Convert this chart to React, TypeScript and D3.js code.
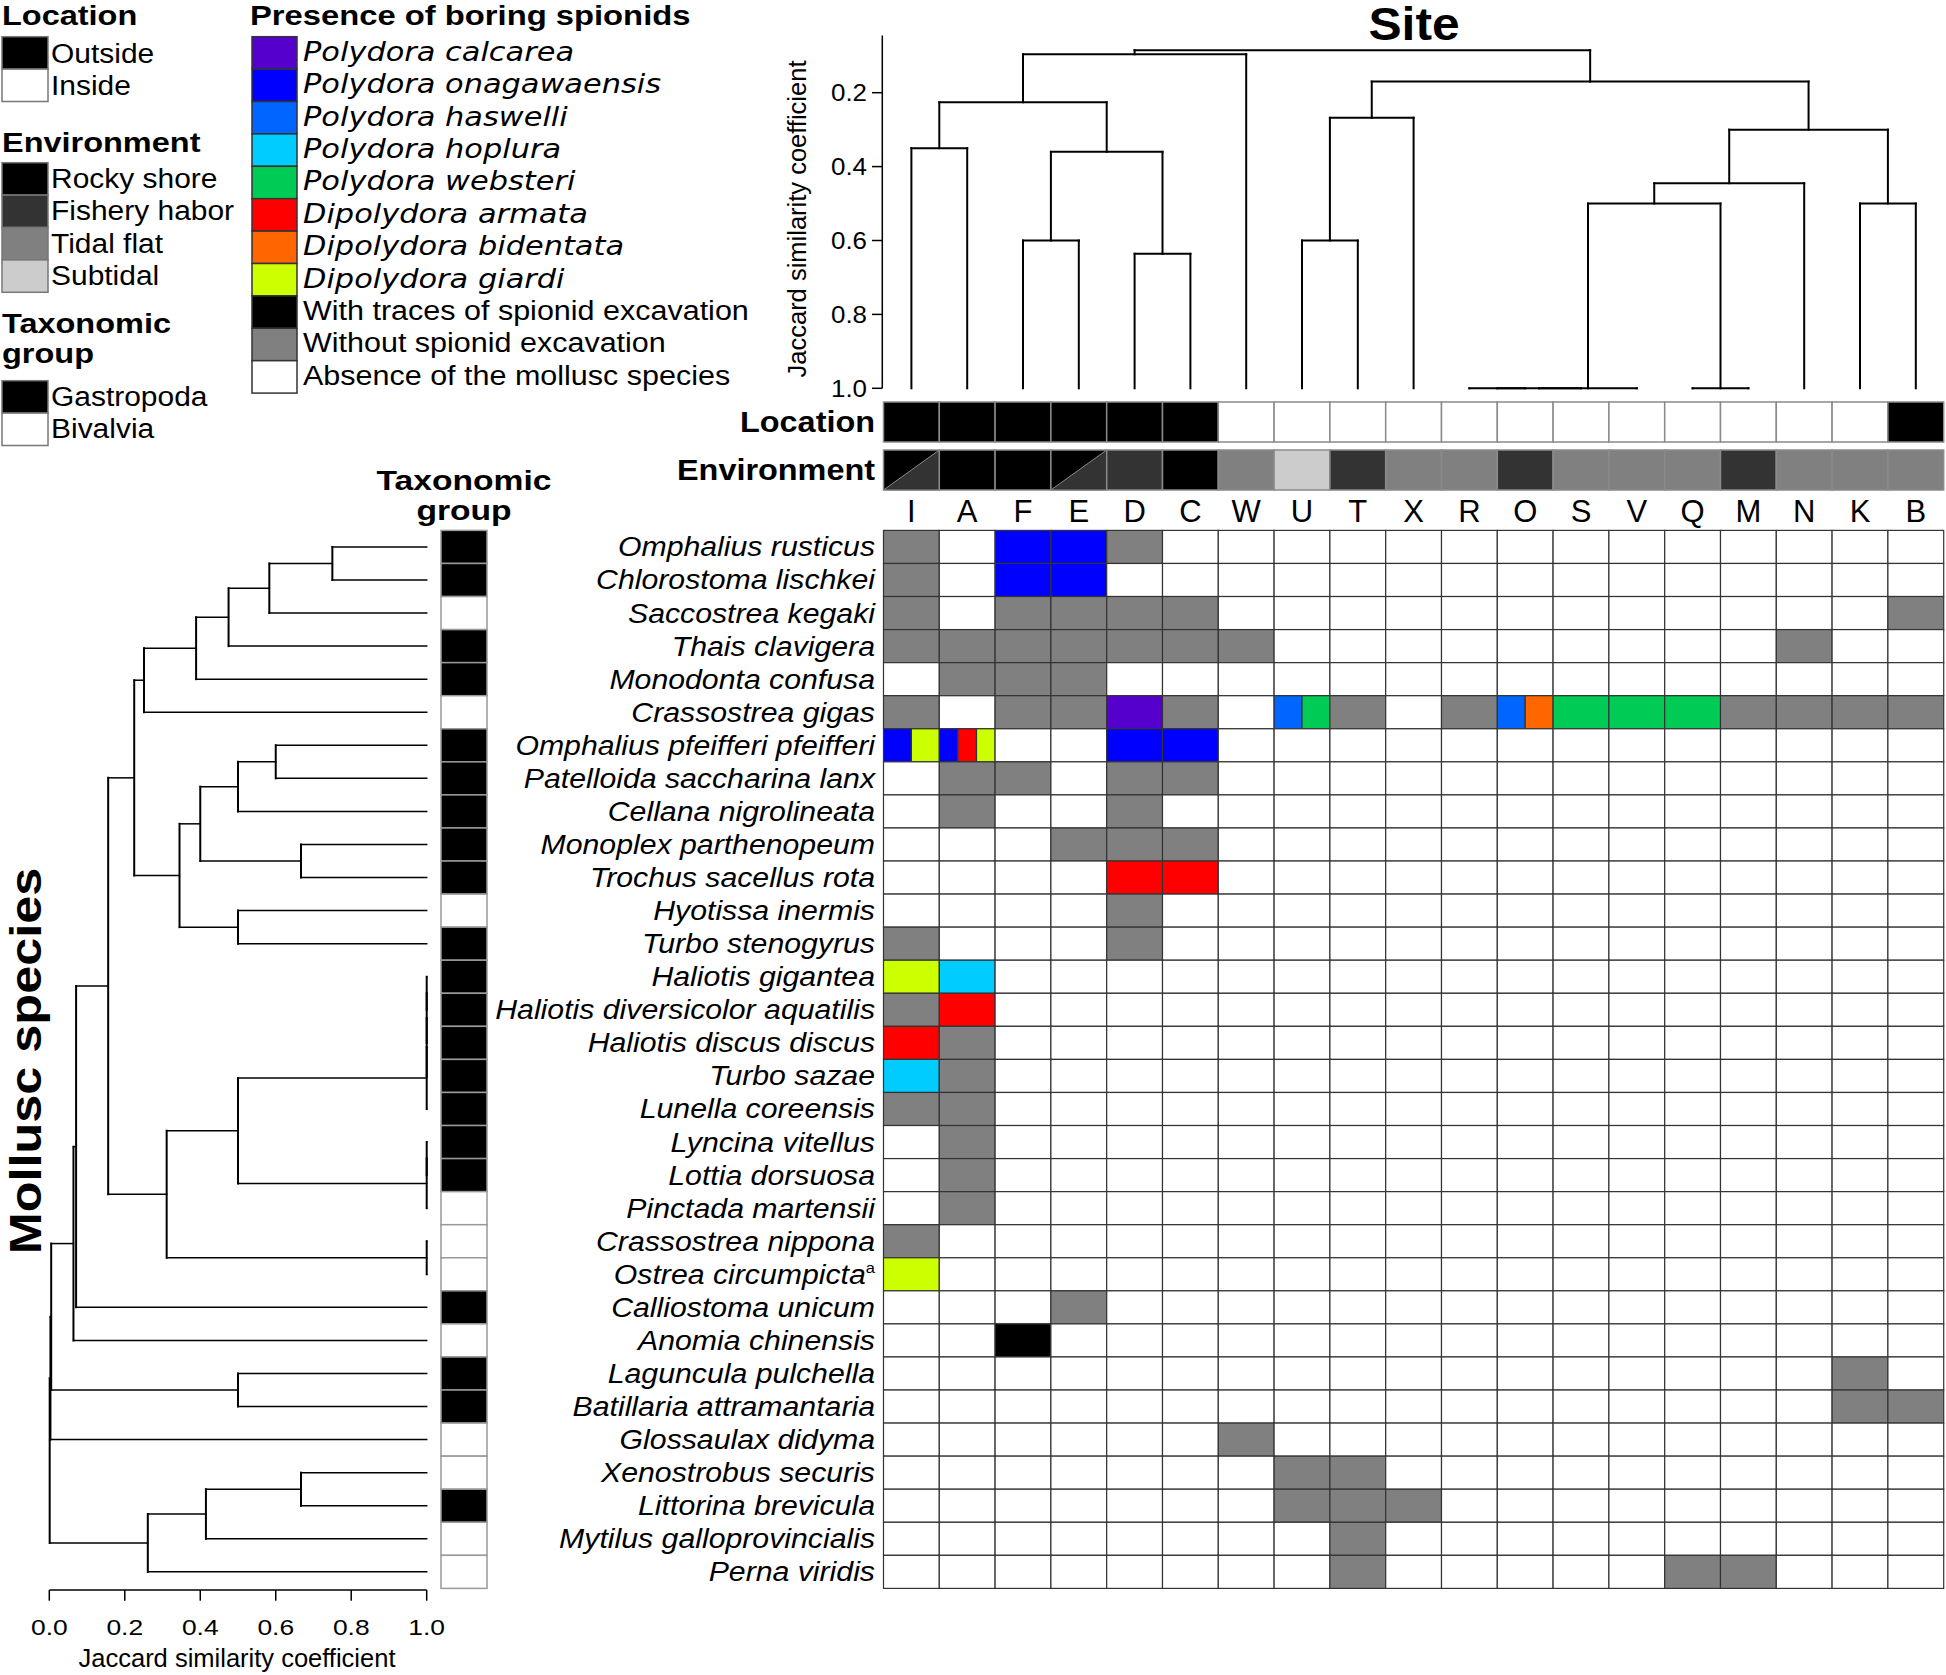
import React from "react";
import * as d3 from "d3";

const SANS = "'Liberation Sans', Arial, Helvetica, sans-serif";
const VERA = "'DejaVu Sans', Verdana, sans-serif";

// ---------------- DATA ----------------
const siteOrder = ["I","A","F","E","D","C","W","U","T","X","R","O","S","V","Q","M","N","K","B"];
const siteLocation = ["Outside","Outside","Outside","Outside","Outside","Outside","Inside","Inside","Inside","Inside","Inside","Inside","Inside","Inside","Inside","Inside","Inside","Inside","Outside"];
const siteEnvironment = [
  "Rocky shore/Fishery habor","Rocky shore","Rocky shore","Rocky shore/Fishery habor","Fishery habor","Rocky shore",
  "Tidal flat","Subtidal","Fishery habor","Tidal flat","Tidal flat","Fishery habor","Tidal flat","Tidal flat","Tidal flat",
  "Fishery habor","Tidal flat","Tidal flat","Tidal flat"];

// site dendrogram: [left, right, Jaccard similarity at merge]; "c#" = earlier cluster
const siteMerges: [string, string, number][] = [
  ["I","A",0.35],["F","E",0.6],["D","C",0.636],["c2","c3",0.36],["c1","c4",0.226],["c5","W",0.096],
  ["U","T",0.6],["c7","X",0.268],["R","O",1.0],["c9","S",1.0],["c10","V",1.0],["Q","M",1.0],
  ["c11","c12",0.5],["c13","N",0.445],["K","B",0.5],["c14","c15",0.3],["c8","c16",0.17],["c6","c17",0.085],
];
const siteAxisTicks = [0.2,0.4,0.6,0.8,1.0];

const species = [
  "Omphalius rusticus","Chlorostoma lischkei","Saccostrea kegaki","Thais clavigera","Monodonta confusa",
  "Crassostrea gigas","Omphalius pfeifferi pfeifferi","Patelloida saccharina lanx","Cellana nigrolineata",
  "Monoplex parthenopeum","Trochus sacellus rota","Hyotissa inermis","Turbo stenogyrus","Haliotis gigantea",
  "Haliotis diversicolor aquatilis","Haliotis discus discus","Turbo sazae","Lunella coreensis","Lyncina vitellus",
  "Lottia dorsuosa","Pinctada martensii","Crassostrea nippona","Ostrea circumpicta","Calliostoma unicum",
  "Anomia chinensis","Laguncula pulchella","Batillaria attramantaria","Glossaulax didyma","Xenostrobus securis",
  "Littorina brevicula","Mytilus galloprovincialis","Perna viridis"];
const speciesNote: Record<number, string> = { 22: "a" };
const speciesTaxon = ["Gastropoda","Gastropoda","Bivalvia","Gastropoda","Gastropoda","Bivalvia","Gastropoda","Gastropoda",
  "Gastropoda","Gastropoda","Gastropoda","Bivalvia","Gastropoda","Gastropoda","Gastropoda","Gastropoda","Gastropoda",
  "Gastropoda","Gastropoda","Gastropoda","Bivalvia","Bivalvia","Bivalvia","Gastropoda","Bivalvia","Gastropoda",
  "Gastropoda","Bivalvia","Bivalvia","Gastropoda","Bivalvia","Bivalvia"];

// presence per species row: "site:code", split cells joined with "/"
const presence = [
  "I:G F:Po E:Po D:G",
  "I:G F:Po E:Po",
  "I:G F:G E:G D:G C:G B:G",
  "I:G A:G F:G E:G D:G C:G W:G N:G",
  "A:G F:G E:G",
  "I:G F:G E:G D:Pc C:G U:Ph/Pw T:G R:G O:Ph/Db S:Pw V:Pw Q:Pw M:G N:G K:G B:G",
  "I:Po/Dg A:Po/Da/Dg D:Po C:Po",
  "A:G F:G D:G C:G",
  "A:G D:G",
  "E:G D:G C:G",
  "D:Da C:Da",
  "D:G",
  "I:G D:G",
  "I:Dg A:Pl",
  "I:G A:Da",
  "I:Da A:G",
  "I:Pl A:G",
  "I:G A:G",
  "A:G",
  "A:G",
  "A:G",
  "I:G",
  "I:Dg",
  "E:G",
  "F:K",
  "K:G",
  "K:G B:G",
  "W:G",
  "U:G T:G",
  "U:G T:G X:G",
  "T:G",
  "T:G Q:G M:G",
];

// species dendrogram: leaves = row index, "c#" = earlier cluster
const speciesMerges: [number | string, number | string, number][] = [
  [0,1,0.75],["c1",2,0.583],["c2",3,0.475],["c3",4,0.389],["c4",5,0.251],
  [6,7,0.6],["c6",8,0.5],[9,10,0.667],["c7","c8",0.4],[11,12,0.5],["c9","c10",0.345],["c5","c11",0.225],
  [13,14,1],["c13",15,1],["c14",16,1],["c15",17,1],[18,19,1],["c17",20,1],["c16","c18",0.5],
  [21,22,1],["c19","c20",0.311],["c12","c21",0.156],["c22",23,0.071],["c23",24,0.064],
  [25,26,0.5],["c24","c25",0.005],["c26",27,0.003],[28,29,0.667],["c28",30,0.415],["c29",31,0.261],["c27","c30",0.001],
];
const speciesAxisTicks = [0,0.2,0.4,0.6,0.8,1.0];

const locationLevels = ["Outside","Inside"];
const environmentLevels = ["Rocky shore","Fishery habor","Tidal flat","Subtidal"];
const taxonLevels = ["Gastropoda","Bivalvia"];
const presenceCodes = ["Pc","Po","Ph","Pl","Pw","Da","Db","Dg","K","G","."];
const presenceLabels = ["Polydora calcarea","Polydora onagawaensis","Polydora haswelli","Polydora hoplura","Polydora websteri",
  "Dipolydora armata","Dipolydora bidentata","Dipolydora giardi","With traces of spionid excavation",
  "Without spionid excavation","Absence of the mollusc species"];
const presenceItalic = [true,true,true,true,true,true,true,true,false,false,false];

// ---------------- STYLE ----------------
const codeColor: Record<string, string> = {
  ".": "#ffffff", G: "#808080", K: "#000000", Pc: "#5500cc", Po: "#0000ff", Ph: "#0066ff",
  Pl: "#00ccff", Pw: "#00cc55", Da: "#ff0000", Db: "#ff6600", Dg: "#ccff00",
};
const locColor: Record<string, string> = { Outside: "#000000", Inside: "#ffffff" };
const envColor: Record<string, string> = { "Rocky shore": "#000000", "Fishery habor": "#333333", "Tidal flat": "#808080", Subtidal: "#cccccc" };
const taxColor: Record<string, string> = { Gastropoda: "#000000", Bivalvia: "#ffffff" };

function ST(props: any) {
  const { x, y, sx = 1, rot = 0, anchor = "start", size, weight = "normal", italic = false, family = SANS, children } = props;
  return (
    <g transform={`translate(${x},${y}) rotate(${rot}) scale(${sx},1)`}>
      <text textAnchor={anchor} fontSize={size} fontWeight={weight} fontStyle={italic ? "italic" : "normal"} fontFamily={family} fill="#000">
        {children}
      </text>
    </g>
  );
}

function buildDendro(merges: any[], leafPos: (r: any) => number, leafH: number) {
  const nodes: { p: number; h: number }[] = [];
  const get = (r: any) => (typeof r === "string" && /^c\d+$/.test(r) ? nodes[+r.slice(1) - 1] : { p: leafPos(r), h: leafH });
  const across: any[] = [];
  const drops: any[] = [];
  merges.forEach(([a, b, h]) => {
    const A = get(a), B = get(b);
    across.push({ p1: A.p, p2: B.p, h });
    drops.push({ p: A.p, h1: A.h, h2: h });
    drops.push({ p: B.p, h1: B.h, h2: h });
    nodes.push({ p: (A.p + B.p) / 2, h });
  });
  return { across, drops };
}

export default function App() {
  const W = 1946, H = 1675;
  const xSite = d3.scaleBand<string>().domain(siteOrder).range([883.5, 1943.7]);
  const bw = xSite.bandwidth();
  const cx = (s: string) => (xSite(s) as number) + bw / 2;
  const yRow = d3.scaleBand<number>().domain(d3.range(species.length)).range([530.4, 1588.4]);
  const bh = yRow.bandwidth();
  const cy = (i: number) => (yRow(i) as number) + bh / 2;
  const ySim = d3.scaleLinear().domain([0.2, 1]).range([92.7, 388.3]);
  const xSim = d3.scaleLinear().domain([0, 1]).range([49.3, 426.7]);

  const top = buildDendro(siteMerges, cx, 1);
  const left = buildDendro(speciesMerges, cy, 1);

  const locY = [402, 442], envY = [450, 490];
  const taxX = [441, 487];

  const presenceRows = presence.map((s) => {
    const m: Record<string, string> = {};
    s.split(" ").filter(Boolean).forEach((t) => { const [k, v] = t.split(":"); m[k] = v; });
    return m;
  });

  const swatchStep = 32.4;

  return (
    <svg width={W} height={H} style={{ position: "absolute", left: 0, top: 0, background: "#fff" }} xmlns="http://www.w3.org/2000/svg">
      <rect x={0} y={0} width={W} height={H} fill="#fff" />

      {/* ---------- left legends ---------- */}
      <ST x={2} y={25} sx={1.16} size={28} weight="bold">Location</ST>
      {locationLevels.map((l, i) => (
        <g key={l}>
          <rect x={2} y={36.7 + i * swatchStep} width={46} height={swatchStep} fill={locColor[l]} stroke="#777" strokeWidth={1.5} />
          <ST x={51} y={36.7 + i * swatchStep + 26} sx={1.07} size={28}>{l}</ST>
        </g>
      ))}
      <ST x={2} y={151.7} sx={1.16} size={28} weight="bold">Environment</ST>
      {environmentLevels.map((l, i) => (
        <g key={l}>
          <rect x={2} y={162.7 + i * swatchStep} width={46} height={swatchStep} fill={envColor[l]} stroke="#777" strokeWidth={1.5} />
          <ST x={51} y={162.7 + i * swatchStep + 25} sx={1.07} size={28}>{l}</ST>
        </g>
      ))}
      <ST x={2} y={333.3} sx={1.16} size={28} weight="bold">Taxonomic</ST>
      <ST x={2} y={363.3} sx={1.16} size={28} weight="bold">group</ST>
      {taxonLevels.map((l, i) => (
        <g key={l}>
          <rect x={2} y={380.7 + i * swatchStep} width={46} height={swatchStep} fill={taxColor[l]} stroke="#777" strokeWidth={1.5} />
          <ST x={51} y={380.7 + i * swatchStep + 25} sx={1.07} size={28}>{l}</ST>
        </g>
      ))}

      {/* ---------- presence legend ---------- */}
      <ST x={250} y={25} sx={1.17} size={28} weight="bold">Presence of boring spionids</ST>
      {presenceCodes.map((c, i) => (
        <g key={c}>
          <rect x={252} y={36.7 + i * swatchStep} width={45} height={swatchStep} fill={codeColor[c]} stroke="#333" strokeWidth={1.5} />
          {presenceItalic[i] ? (
            <ST x={303} y={36.7 + i * swatchStep + 24} sx={1.17} size={26} italic family={VERA}>{presenceLabels[i]}</ST>
          ) : (
            <ST x={303} y={36.7 + i * swatchStep + 24} sx={1.09} size={28}>{presenceLabels[i]}</ST>
          )}
        </g>
      ))}

      {/* ---------- site dendrogram ---------- */}
      <ST x={1414} y={40} anchor="middle" sx={1.08} size={46} weight="bold">Site</ST>
      <line x1={882.3} x2={882.3} y1={ySim(0.045)} y2={ySim(1)} stroke="#000" strokeWidth={1.5} />
      {siteAxisTicks.map((t) => (
        <g key={t}>
          <line x1={872} x2={882.3} y1={ySim(t)} y2={ySim(t)} stroke="#000" strokeWidth={1.5} />
          <ST x={867} y={ySim(t) + 8.5} anchor="end" sx={1.08} size={24}>{t.toFixed(1)}</ST>
        </g>
      ))}
      <ST x={806} y={219} rot={-90} anchor="middle" size={25.5}>Jaccard similarity coefficient</ST>
      <g stroke="#000" strokeWidth={2} strokeLinecap="square">
        {top.across.map((s, i) => (
          <line key={"a" + i} x1={s.p1} x2={s.p2} y1={ySim(s.h)} y2={ySim(s.h)} />
        ))}
        {top.drops.map((s, i) => (
          <line key={"d" + i} x1={s.p} x2={s.p} y1={ySim(s.h1)} y2={ySim(s.h2)} />
        ))}
      </g>

      {/* ---------- location / environment strips ---------- */}
      <ST x={875} y={432.3} anchor="end" sx={1.08} size={30} weight="bold">Location</ST>
      <ST x={875} y={480} anchor="end" sx={1.08} size={30} weight="bold">Environment</ST>
      {siteOrder.map((s, i) => {
        const x0 = xSite(s) as number;
        const env = siteEnvironment[i].split("/");
        return (
          <g key={s}>
            <rect x={x0} y={locY[0]} width={bw} height={locY[1] - locY[0]} fill={locColor[siteLocation[i]]} stroke="#8a8a8a" strokeWidth={1.5} />
            <rect x={x0} y={envY[0]} width={bw} height={envY[1] - envY[0]} fill={envColor[env[0]]} stroke="#8a8a8a" strokeWidth={1.5} />
            {env.length > 1 && (
              <polygon
                points={`${x0},${envY[1]} ${x0 + bw},${envY[0]} ${x0 + bw},${envY[1]}`}
                fill={envColor[env[1]]}
                stroke="#8a8a8a"
                strokeWidth={1}
              />
            )}
            <ST x={cx(s)} y={522} anchor="middle" size={31}>{s}</ST>
          </g>
        );
      })}

      {/* ---------- heatmap ---------- */}
      {species.map((sp, r) => (
        <g key={sp}>
          <g transform={`translate(875,${cy(r) + 9.5}) scale(1.1,1)`}>
            <text textAnchor="end" fontSize={27.5} fontStyle="italic" fontFamily={SANS}>
              {sp}
              {speciesNote[r] && (
                <tspan fontSize={15} dy={-11} fontStyle="normal">{speciesNote[r]}</tspan>
              )}
            </text>
          </g>
          {siteOrder.map((s) => {
            const code = presenceRows[r][s] || ".";
            const parts = code.split("/");
            const w = bw / parts.length;
            return parts.map((p, k) => (
              <rect key={s + k} x={(xSite(s) as number) + k * w} y={yRow(r)} width={w} height={bh} fill={codeColor[p]} stroke="#333" strokeWidth={1.2} />
            ));
          })}
          <rect x={taxX[0]} y={yRow(r)} width={taxX[1] - taxX[0]} height={bh} fill={taxColor[speciesTaxon[r]]} stroke="#999" strokeWidth={1.5} />
        </g>
      ))}
      <ST x={464} y={490} anchor="middle" sx={1.18} size={28.5} weight="bold">Taxonomic</ST>
      <ST x={464} y={520} anchor="middle" sx={1.18} size={28.5} weight="bold">group</ST>

      {/* ---------- species dendrogram ---------- */}
      <g stroke="#000" strokeLinecap="square">
        {left.across.map((s, i) => (
          <line key={"a" + i} x1={xSim(s.h)} x2={xSim(s.h)} y1={s.p1} y2={s.p2} strokeWidth={2} />
        ))}
        {left.drops.map((s, i) => (
          <line key={"d" + i} x1={xSim(s.h1)} x2={xSim(s.h2)} y1={s.p} y2={s.p} strokeWidth={1.5} />
        ))}
      </g>
      <line x1={xSim(0)} x2={xSim(1)} y1={1590} y2={1590} stroke="#000" strokeWidth={1.5} />
      {speciesAxisTicks.map((t) => (
        <g key={t}>
          <line x1={xSim(t)} x2={xSim(t)} y1={1590} y2={1600.7} stroke="#000" strokeWidth={1.5} />
          <ST x={xSim(t)} y={1635} anchor="middle" sx={1.2} size={22}>{t.toFixed(1)}</ST>
        </g>
      ))}
      <ST x={237} y={1667} anchor="middle" size={25.5}>Jaccard similarity coefficient</ST>
      <ST x={41} y={1061} rot={-90} anchor="middle" sx={1.12} size={45} weight="bold">Mollusc species</ST>
    </svg>
  );
}
